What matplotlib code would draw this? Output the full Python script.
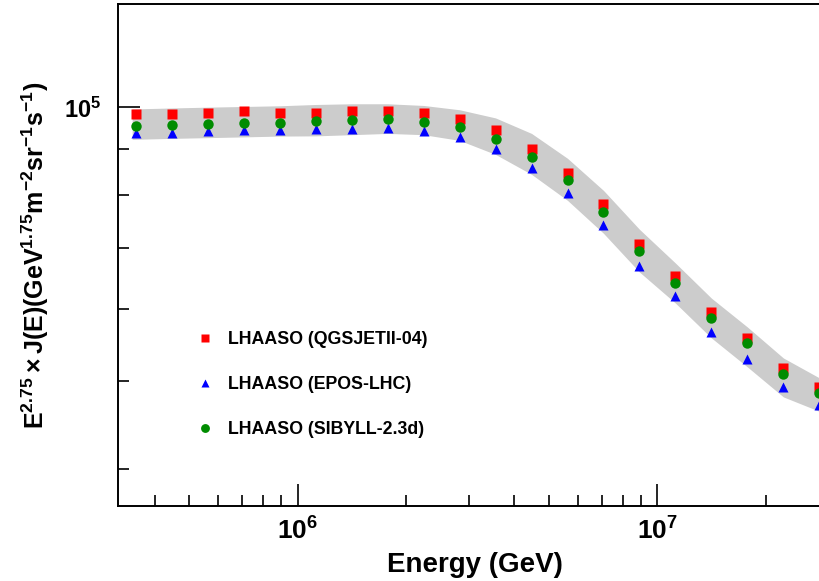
import numpy as np
import matplotlib
matplotlib.use("Agg")
import matplotlib.pyplot as plt
from matplotlib.ticker import LogLocator, NullFormatter

plt.rcParams['font.family'] = ['Liberation Sans', 'DejaVu Sans']
plt.rcParams['font.weight'] = 'bold'
plt.rcParams['mathtext.fontset'] = 'custom'
plt.rcParams['mathtext.rm'] = 'Liberation Sans:bold'
plt.rcParams['mathtext.bf'] = 'Liberation Sans:bold'
plt.rcParams['mathtext.it'] = 'Liberation Sans:bold:italic'

# log10(E/GeV) bin centres
logE = [5.55, 5.65, 5.75, 5.85, 5.95, 6.05, 6.15, 6.25, 6.35, 6.45,
        6.55, 6.65, 6.75, 6.85, 6.95, 7.05, 7.15, 7.25, 7.35, 7.45]

# E^2.75 J(E)
qgsjet = [98240, 98300, 98700, 99000, 98700, 98700, 99000, 99100, 98500, 97200,
          94350, 90070, 84700, 78300, 70760, 65220, 59480, 55780, 51620, 49180]
epos = [93800, 93800, 94180, 94350, 94350, 94590, 94660, 94900, 94180, 92760,
        89910, 85760, 80510, 74190, 66930, 62030, 56550, 52800, 49260, 47040]
sibyll = [95300, 95550, 95860, 96200, 96200, 96690, 96840, 97010, 96450, 95140,
          92390, 88160, 83130, 76800, 69470, 64130, 58680, 55000, 50880, 48450]

# systematic band
band_logE = [5.54, 5.65, 5.75, 5.85, 5.95, 6.05, 6.15, 6.25, 6.35, 6.45,
             6.55, 6.65, 6.75, 6.85, 6.95, 7.05, 7.15, 7.25, 7.35, 7.46]
band_hi = [99620, 99870, 100080, 100250, 100430, 100760, 100940, 100940, 100510, 99420,
           97380, 93630, 87900, 81030, 73420, 67400, 61660, 57310, 52980, 50120]
band_lo = [92230, 92460, 92630, 92810, 93000, 93050, 93330, 93630, 93330, 91990,
           88770, 84400, 79010, 72680, 65880, 60890, 55740, 51790, 48000, 46110]

E = 10 ** np.array(logE)
bandE = 10 ** np.array(band_logE)

fig = plt.figure(figsize=(8.19, 5.81), dpi=100)
ax = fig.add_axes([118/819, 75/581, 701/819, 502/581])

ax.fill_between(bandE, band_lo, band_hi, color='#cccccc', lw=0, zorder=1)
ax.plot(E, qgsjet, 's', color='#ff0000', ms=6.5, mec='none', label='LHAASO (QGSJETII-04)', zorder=3)
ax.plot(E, epos, '^', color='#0000ff', ms=7.5, mec='none', label='LHAASO (EPOS-LHC)', zorder=3)
ax.plot(E, sibyll, 'o', color='#008c00', ms=7.5, mec='none', label='LHAASO (SIBYLL-2.3d)', zorder=4)

ax.set_xscale('log')
ax.set_yscale('log')
ax.set_xlim(10 ** 5.5006, 10 ** 7.449)
ax.set_ylim(3.64e4, 1.3e5)

ax.xaxis.set_minor_locator(LogLocator(base=10, subs=np.arange(2, 10)))
ax.yaxis.set_minor_locator(LogLocator(base=10, subs=np.arange(2, 10)))
ax.xaxis.set_minor_formatter(NullFormatter())
ax.yaxis.set_minor_formatter(NullFormatter())

ax.tick_params(which='both', direction='in', top=False, right=False, width=1.2)
ax.tick_params(which='major', length=16)
ax.tick_params(which='minor', length=8)
ax.tick_params(axis='x', which='major', pad=8, labelsize=19)
ax.tick_params(axis='y', which='major', pad=12, labelsize=17)
for s in ax.spines.values():
    s.set_linewidth(1.4)
ax.spines['right'].set_visible(False)

ax.set_xlabel('Energy (GeV)', fontsize=20, fontweight='bold')
ax.xaxis.set_label_coords(0.509, -0.092)
ax.set_ylabel(r'$\mathrm{E^{2.75}}\times\mathrm{J(E)(GeV^{1.75}m^{-2}sr^{-1}s^{-1})}$',
              fontsize=18)
ax.yaxis.set_label_coords(-0.095, 0.5)

ax.legend(loc='upper left', bbox_to_anchor=(0.111, 0.348), frameon=False,
          prop={'size': 12.8, 'weight': 'bold'}, labelspacing=1.57,
          borderpad=0, borderaxespad=0, markerscale=0.85,
          handletextpad=0.8, handlelength=1.0, numpoints=1)

fig.savefig('out.png', dpi=100)
